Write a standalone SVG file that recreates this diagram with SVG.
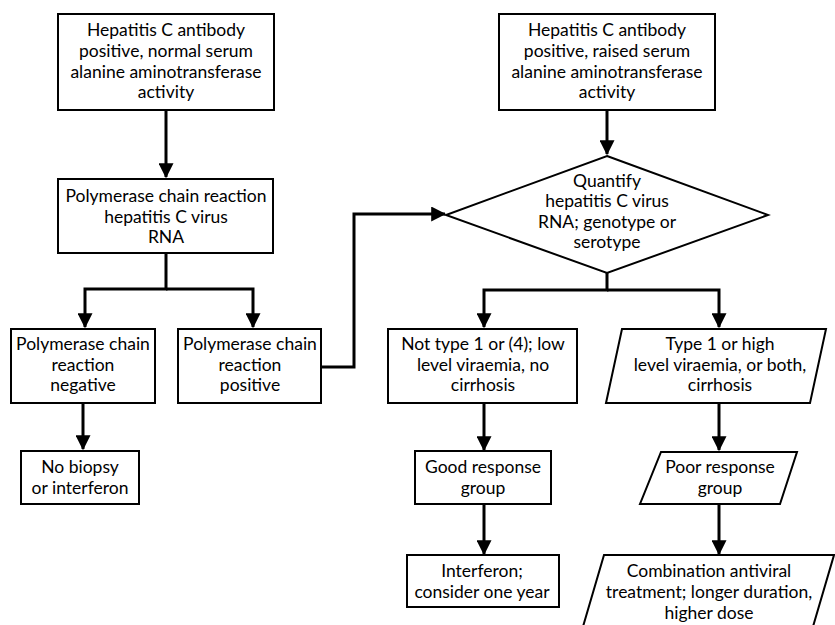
<svg xmlns="http://www.w3.org/2000/svg" width="835" height="625" viewBox="0 0 835 625">
<style>
.b{fill:#fff;stroke:#000;stroke-width:2}
.c{fill:none;stroke:#000;stroke-width:3}
text{font-family:Lato,"Open Sans","DejaVu Sans",sans-serif;font-size:17.5px;text-anchor:middle;fill:#000}
</style>
<defs>
<marker id="a" markerWidth="5" markerHeight="5" refX="4.6" refY="2.5" orient="auto" markerUnits="strokeWidth">
<path d="M0,0 L5,2.5 L0,5 Z" fill="#000"/>
</marker>
</defs>
<rect width="835" height="625" fill="#fff"/>
<g id="connectors">
<path class="c" d="M166,110 V177" marker-end="url(#a)"/>
<path class="c" d="M166,253 V289 H85 V327" marker-end="url(#a)"/>
<path class="c" d="M166,289 H253 V327" marker-end="url(#a)"/>
<path class="c" d="M83,403 V449" marker-end="url(#a)"/>
<path class="c" d="M321,367 H354 V214 H445" marker-end="url(#a)"/>
<path class="c" d="M607,110 V154" marker-end="url(#a)"/>
<path class="c" d="M607,273 V290 H484 V327" marker-end="url(#a)"/>
<path class="c" d="M607,290 H719 V327" marker-end="url(#a)"/>
<path class="c" d="M484,403 V450" marker-end="url(#a)"/>
<path class="c" d="M484,504 V554" marker-end="url(#a)"/>
<path class="c" d="M719,403 V450" marker-end="url(#a)"/>
<path class="c" d="M719,504 V554" marker-end="url(#a)"/>
</g>
<g id="n1"><rect class="b" x="58" y="14" width="216" height="96"/>
<text x="166" y="36">Hepatitis C antibody</text><text x="166" y="57">positive, normal serum</text><text x="166" y="78">alanine aminotransferase</text><text x="166" y="98">activity</text></g>
<g id="n2"><rect class="b" x="58" y="179" width="215" height="74"/>
<text x="166" y="202">Polymerase chain reaction</text><text x="166" y="223">hepatitis C virus</text><text x="166" y="243">RNA</text></g>
<g id="n3"><rect class="b" x="11" y="329" width="144" height="74"/>
<text x="83" y="350">Polymerase chain</text><text x="83" y="371">reaction</text><text x="83" y="391">negative</text></g>
<g id="n4"><rect class="b" x="178" y="329" width="143" height="74"/>
<text x="250" y="350">Polymerase chain</text><text x="250" y="371">reaction</text><text x="250" y="391">positive</text></g>
<g id="n5"><rect class="b" x="21" y="451" width="118" height="53"/>
<text x="80" y="473">No biopsy</text><text x="80" y="494">or interferon</text></g>
<g id="n6"><rect class="b" x="499" y="14" width="216" height="96"/>
<text x="607" y="36">Hepatitis C antibody</text><text x="607" y="57">positive, raised serum</text><text x="607" y="78">alanine aminotransferase</text><text x="607" y="98">activity</text></g>
<g id="n7"><polygon class="b" points="607,156 768,215 607,273 446,215"/>
<text x="607" y="187">Quantify</text><text x="607" y="207">hepatitis C virus</text><text x="607" y="228">RNA; genotype or</text><text x="607" y="248">serotype</text></g>
<g id="n8"><rect class="b" x="388" y="329" width="189" height="74"/>
<text x="483" y="350">Not type 1 or (4); low</text><text x="483" y="371">level viraemia, no</text><text x="483" y="391">cirrhosis</text></g>
<g id="n9"><polygon class="b" points="622,329 826,329 810,403 606,403"/>
<text x="720" y="350">Type  1 or high</text><text x="720" y="371">level viraemia, or both,</text><text x="720" y="391">cirrhosis</text></g>
<g id="n10"><rect class="b" x="415" y="451" width="136" height="53"/>
<text x="483" y="473">Good response</text><text x="483" y="494">group</text></g>
<g id="n11"><polygon class="b" points="661,452 797,452 780,504 640,504"/>
<text x="720" y="473">Poor response</text><text x="720" y="494">group</text></g>
<g id="n12"><rect class="b" x="407" y="555" width="152" height="52"/>
<text x="482" y="577">Interferon;</text><text x="482" y="598">consider one year</text></g>
<g id="n13"><polygon class="b" points="604,555 834,555 812,630 582,630"/>
<text x="709" y="577">Combination antiviral</text><text x="709" y="598">treatment; longer duration,</text><text x="709" y="619">higher dose</text></g>
</svg>
